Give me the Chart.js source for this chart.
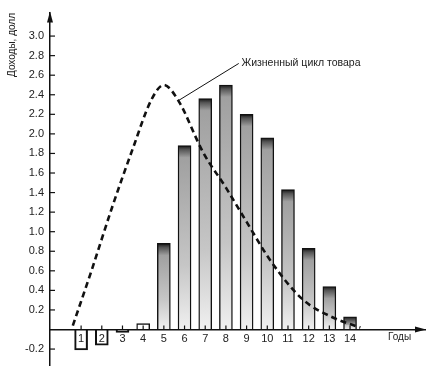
<!DOCTYPE html>
<html>
<head>
<meta charset="utf-8">
<script src="https://cdn.jsdelivr.net/npm/chart.js@4/dist/chart.umd.min.js"></script>
<style>
  html, body { margin: 0; padding: 0; background: #fff; }
  #wrap { width: 444px; height: 378px; }
</style>
</head>
<body>
<div id="wrap"><canvas id="chart" width="444" height="378"></canvas></div>
<script>
// годы и доходы по годам
const years = [1, 2, 3, 4, 5, 6, 7, 8, 9, 10, 11, 12, 13, 14];
const income = [-0.21, -0.16, -0.03, 0.06, 0.88, 1.88, 2.36, 2.5, 2.2, 1.96, 1.43, 0.83, 0.44, 0.13];

// кривая жизненного цикла
const cycleX = [0.6, 1.5, 2.5, 3.5, 4.4, 5.0, 5.7, 6.9, 8.0, 9.0, 10.2, 11.7, 13.2, 14.5];
const cycleY = [0.04, 0.6, 1.25, 1.85, 2.35, 2.5, 2.34, 1.81, 1.45, 1.1, 0.69, 0.31, 0.12, 0.02];

const yTicks = [-0.2, 0.2, 0.4, 0.6, 0.8, 1.0, 1.2, 1.4, 1.6, 1.8, 2.0, 2.2, 2.4, 2.6, 2.8, 3.0];

const FONT = '"Liberation Sans", Arial, sans-serif';

function barFill(ctx) {
    const chart = ctx.chart;
    const v = ctx.raw && ctx.raw.y;
    if (v === undefined || v < 0) return 'rgba(255,255,255,0)';
    if (!chart.chartArea || v < 0.1) return '#fff';
    const ys = chart.scales.y;
    const top = ys.getPixelForValue(v), base = ys.getPixelForValue(0);
    const h = base - top;
    const d = Math.min(0.25, 4 / h);
    const g = chart.ctx.createLinearGradient(0, top, 0, base);
    g.addColorStop(0, '#151515');
    g.addColorStop(d, '#555');
    g.addColorStop(Math.min(0.6, d * 3), '#a0a0a0');
    g.addColorStop(0.65, '#c6c6c6');
    g.addColorStop(1, '#f0f0f0');
    return g;
}

const decor = {
    id: 'decor',
    afterDraw(chart) {
        const { ctx, chartArea: a, scales: { x, y } } = chart;
        const y0 = y.getPixelForValue(0);
        ctx.save();
        ctx.strokeStyle = '#111';
        ctx.fillStyle = '#111';
        ctx.lineWidth = 1.2;
        // штрихи на оси Y
        yTicks.forEach(v => {
            const py = y.getPixelForValue(v);
            ctx.beginPath(); ctx.moveTo(a.left, py); ctx.lineTo(a.left + 5, py); ctx.stroke();
        });
        // штрихи на оси X
        years.forEach(v => {
            const px = x.getPixelForValue(v);
            ctx.beginPath(); ctx.moveTo(px, y0); ctx.lineTo(px, y0 - 4); ctx.stroke();
        });
        // стрелки
        ctx.beginPath();
        ctx.moveTo(a.left, a.top - 1); ctx.lineTo(a.left - 3, a.top + 10); ctx.lineTo(a.left + 3, a.top + 10);
        ctx.closePath(); ctx.fill();
        ctx.beginPath();
        ctx.moveTo(a.right + 1, y0); ctx.lineTo(a.right - 10, y0 - 3); ctx.lineTo(a.right - 10, y0 + 3);
        ctx.closePath(); ctx.fill();

        // подпись кривой
        ctx.lineWidth = 1;
        ctx.beginPath();
        ctx.moveTo(x.getPixelForValue(5.7), y.getPixelForValue(2.34));
        ctx.lineTo(x.getPixelForValue(8.62), y.getPixelForValue(2.72));
        ctx.stroke();
        ctx.fillStyle = '#222';
        ctx.font = '10.5px ' + FONT;
        ctx.textBaseline = 'middle';
        ctx.textAlign = 'left';
        ctx.fillText('Жизненный цикл товара', x.getPixelForValue(8.75), y.getPixelForValue(2.72));

        // подписи осей
        ctx.font = '10px ' + FONT;
        ctx.fillText('Годы', 388, y0 + 8);
        ctx.translate(12, 45);
        ctx.rotate(-Math.PI / 2);
        ctx.textAlign = 'center';
        ctx.fillText('Доходы, долл', 0, 0);
        ctx.restore();
    }
};

new Chart(document.getElementById('chart'), {
    type: 'bar',
    data: {
        datasets: [
            {
                type: 'line',
                data: cycleX.map((v, i) => ({ x: v, y: cycleY[i] })),
                borderColor: '#111',
                borderWidth: 2.6,
                borderDash: [6, 4],
                pointRadius: 0,
                cubicInterpolationMode: 'monotone',
                fill: false,
                order: 0
            },
            {
                data: years.map((v, i) => ({ x: v, y: income[i] })),
                backgroundColor: barFill,
                borderColor: '#111',
                borderWidth: 1.4,
                barThickness: 13,
                order: 1
            }
        ]
    },
    options: {
        responsive: false,
        animation: false,
        events: [],
        layout: { padding: { top: 4, right: 19, bottom: 0, left: 0 } },
        plugins: { legend: { display: false }, tooltip: { enabled: false } },
        scales: {
            x: {
                type: 'linear',
                position: { y: 0 },
                min: 0,
                max: 17.12,
                grid: { display: true, drawOnChartArea: false, drawTicks: false },
                border: { display: true, color: '#111', width: 1.5 },
                ticks: {
                    stepSize: 1,
                    autoSkip: false,
                    maxRotation: 0,
                    padding: 3,
                    color: '#222',
                    font: { family: FONT, size: 11 },
                    callback: v => (v >= 1 && v <= 14 && Number.isInteger(v)) ? String(v) : ''
                }
            },
            y: {
                min: -0.367,
                max: 3.24,
                afterFit(s) { s.width = 50; },
                grid: { display: true, drawOnChartArea: false, drawTicks: false },
                border: { display: true, color: '#111', width: 1.5 },
                ticks: {
                    stepSize: 0.2,
                    padding: 6,
                    color: '#222',
                    font: { family: FONT, size: 11 },
                    callback: v => {
                        const r = Math.round(v * 5) / 5;
                        if (Math.abs(v - r) > 1e-6 || Math.abs(r) < 1e-6 || r > 3.01) return '';
                        return r.toFixed(1);
                    }
                }
            }
        }
    },
    plugins: [decor]
});
</script>
</body>
</html>
